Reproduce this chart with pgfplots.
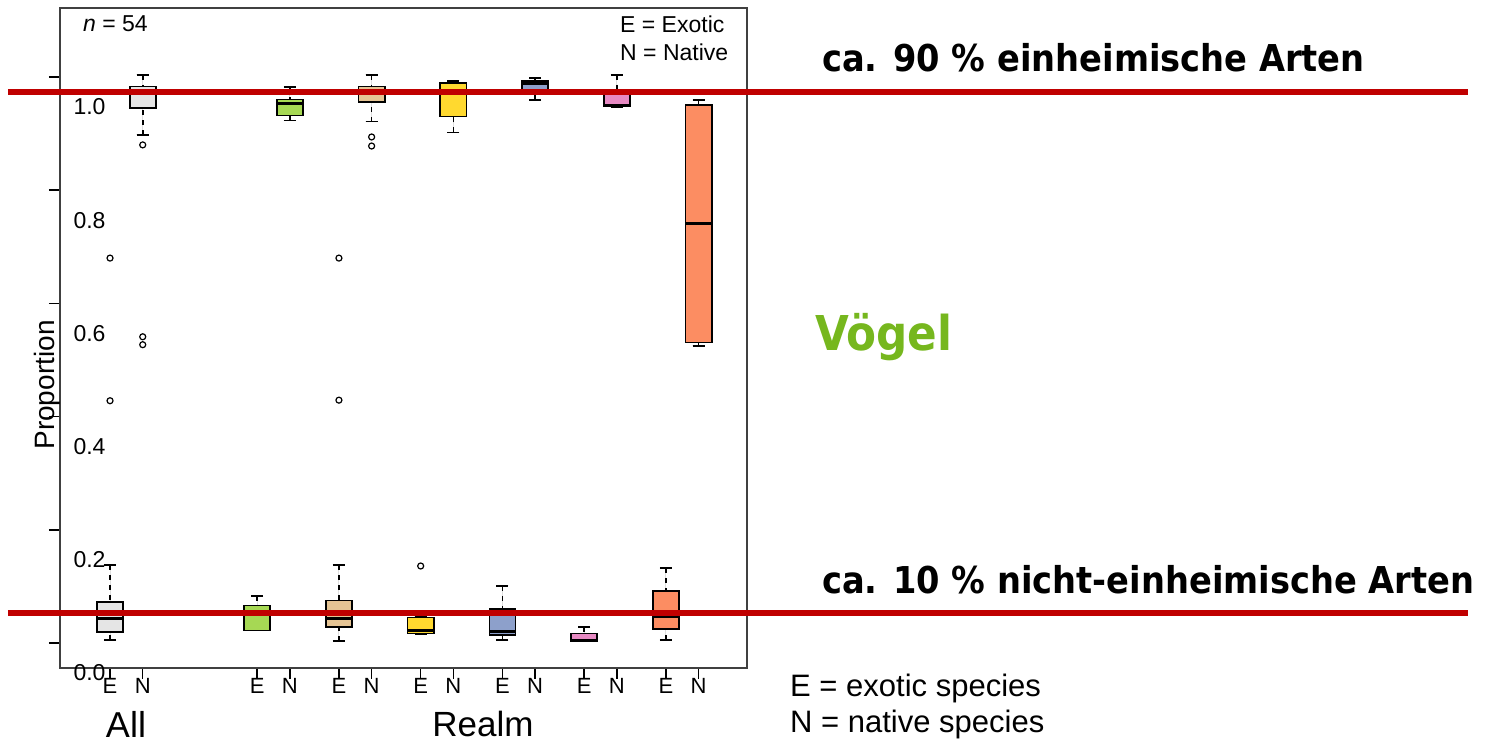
\documentclass[border=0pt]{standalone}
\usepackage{pgfplots}
\pgfplotsset{compat=1.18}
\usepgfplotslibrary{statistics}
\usepackage{fontspec}
\setmainfont{Liberation Sans}
\newfontfamily\annfont[FakeStretch=0.91]{DejaVu Sans}
\definecolor{cAll}{RGB}{229,229,229}
\definecolor{cGreen}{RGB}{166,216,84}
\definecolor{cTan}{RGB}{229,196,148}
\definecolor{cYellow}{RGB}{255,217,47}
\definecolor{cBlue}{RGB}{141,160,203}
\definecolor{cPink}{RGB}{231,138,195}
\definecolor{cOrange}{RGB}{252,141,98}
\definecolor{redline}{RGB}{192,0,0}
\definecolor{vgreen}{RGB}{118,183,30}
\pgfplotsset{
  bx/.style={boxplot prepared={draw position=#1}, draw=black, line width=1.7pt,
    mark=o, mark size=3pt, mark options={black, line width=1.2pt, solid}},
}
\begin{document}
\begin{tikzpicture}
\begin{axis}[
  at={(0,0)}, anchor=south west,
  x=32.7pt, y=566pt,
  xmin=-1.53, xmax=19.48, ymin=-0.0442, ymax=1.122,
  axis line style={line width=1.5pt, black!75},
  tick align=outside, tick pos=left, major tick length=11pt,
  every tick/.style={black, line width=1.5pt},
  xtick={0,1,4.5,5.5,7,8,9.5,10.5,12,13,14.5,15.5,17,18},
  xticklabels={E,N,E,N,E,N,E,N,E,N,E,N,E,N},
  xticklabel style={font=\fontsize{22}{26}\selectfont, yshift=4pt},
  ytick={0,0.2,0.4,0.6,0.8,1.0},
  yticklabels={0.0,0.2,0.4,0.6,0.8,1.0},
  yticklabel style={font=\fontsize{23}{27}\selectfont, anchor=west, xshift=21pt, yshift=-30pt},
  clip=false,
  boxplot/draw direction=y,
  boxplot/box extend=0.8,
  boxplot/whisker extend=0.37,
  boxplot/every median/.style={line width=3pt, black},
  boxplot/draw/lower whisker/.code={%
    \draw[line width=1.6pt, black, dash pattern=on 5pt off 5pt]
      (boxplot box cs:\pgfplotsboxplotvalue{lower whisker},0.5) --
      (boxplot box cs:\pgfplotsboxplotvalue{lower quartile},0.5);
    \draw[line width=1.6pt, black, solid]
      (boxplot whisker cs:\pgfplotsboxplotvalue{lower whisker},0) --
      (boxplot whisker cs:\pgfplotsboxplotvalue{lower whisker},1);
  },
  boxplot/draw/upper whisker/.code={%
    \draw[line width=1.6pt, black, dash pattern=on 5pt off 5pt]
      (boxplot box cs:\pgfplotsboxplotvalue{upper whisker},0.5) --
      (boxplot box cs:\pgfplotsboxplotvalue{upper quartile},0.5);
    \draw[line width=1.6pt, black, solid]
      (boxplot whisker cs:\pgfplotsboxplotvalue{upper whisker},0) --
      (boxplot whisker cs:\pgfplotsboxplotvalue{upper whisker},1);
  },
]
% All
\addplot[bx=0, fill=cAll, boxplot prepared={lower whisker=0.005, lower quartile=0.020, median=0.044, upper quartile=0.072, upper whisker=0.138}]
  coordinates {(0,0.680) (0,0.428)};
\addplot[bx=1, fill=cAll, boxplot prepared={lower whisker=0.898, lower quartile=0.945, median=0.971, upper quartile=0.983, upper whisker=1.004}]
  coordinates {(1,0.880) (1,0.541) (1,0.527)};
% Green
\addplot[bx=4.5, fill=cGreen, boxplot prepared={lower whisker=0.022, lower quartile=0.022, median=0.055, upper quartile=0.066, upper whisker=0.083}]
  coordinates {};
\addplot[bx=5.5, fill=cGreen, boxplot prepared={lower whisker=0.923, lower quartile=0.932, median=0.954, upper quartile=0.960, upper whisker=0.982}]
  coordinates {};
% Tan
\addplot[bx=7, fill=cTan, boxplot prepared={lower whisker=0.004, lower quartile=0.028, median=0.044, upper quartile=0.075, upper whisker=0.138}]
  coordinates {(7,0.680) (7,0.429)};
\addplot[bx=8, fill=cTan, boxplot prepared={lower whisker=0.921, lower quartile=0.956, median=0.971, upper quartile=0.983, upper whisker=1.004}]
  coordinates {(8,0.894) (8,0.878)};
% Yellow
\addplot[bx=9.5, fill=cYellow, boxplot prepared={lower whisker=0.016, lower quartile=0.017, median=0.022, upper quartile=0.045, upper whisker=0.046}]
  coordinates {(9.5,0.136)};
\addplot[bx=10.5, fill=cYellow, boxplot prepared={lower whisker=0.902, lower quartile=0.930, median=0.975, upper quartile=0.989, upper whisker=0.993}]
  coordinates {};
% Blue
\addplot[bx=12, fill=cBlue, boxplot prepared={lower whisker=0.005, lower quartile=0.014, median=0.021, upper quartile=0.060, upper whisker=0.101}]
  coordinates {};
\addplot[bx=13, fill=cBlue, boxplot prepared={lower whisker=0.959, lower quartile=0.976, median=0.988, upper quartile=0.993, upper whisker=0.998}]
  coordinates {};
% Pink
\addplot[bx=14.5, fill=cPink, boxplot prepared={lower whisker=0.003, lower quartile=0.003, median=0.004, upper quartile=0.017, upper whisker=0.028}]
  coordinates {};
\addplot[bx=15.5, fill=cPink, boxplot prepared={lower whisker=0.946, lower quartile=0.948, median=0.950, upper quartile=0.973, upper whisker=1.004}]
  coordinates {};
% Orange
\addplot[bx=17, fill=cOrange, boxplot prepared={lower whisker=0.005, lower quartile=0.025, median=0.046, upper quartile=0.092, upper whisker=0.132}]
  coordinates {};
\addplot[bx=18, fill=cOrange, boxplot prepared={lower whisker=0.525, lower quartile=0.531, median=0.742, upper quartile=0.951, upper whisker=0.959}]
  coordinates {};
\end{axis}
% annotations (1pt = 1px of the reference; origin at the axis' lower-left corner)
\node[anchor=west, inner sep=0, font=\fontsize{23}{27}\selectfont] at (23pt,644pt) {\textit{n} = 54};
\node[anchor=west, inner sep=0, font=\fontsize{23}{27}\selectfont] at (560pt,644pt) {E = Exotic};
\node[anchor=west, inner sep=0, font=\fontsize{23}{27}\selectfont] at (560pt,616pt) {N = Native};
\node[rotate=90, inner sep=0, font=\fontsize{28}{32}\selectfont] at (-13pt,283pt) {Proportion};
\node[inner sep=0, font=\fontsize{36}{42}\selectfont] at (66pt,-56pt) {All};
\node[inner sep=0, font=\fontsize{35}{41}\selectfont] at (423pt,-56pt) {Realm};
\draw[redline, line width=6pt] (-52pt,576pt) -- (1408pt,576pt);
\draw[redline, line width=6pt] (-52pt,55pt) -- (1408pt,55pt);
\node[anchor=west, inner sep=0, font=\annfont\bfseries\fontsize{37}{44}\selectfont] at (762pt,610pt) {ca. 90 \% einheimische Arten};
\node[anchor=west, inner sep=0, font=\annfont\bfseries\fontsize{37}{44}\selectfont] at (762pt,88pt) {ca. 10 \% nicht-einheimische Arten};
\node[anchor=west, inner sep=0, text=vgreen, font=\annfont\bfseries\fontsize{48}{56}\selectfont] at (755pt,331pt) {Vögel};
\node[anchor=west, inner sep=0, font=\fontsize{31}{37}\selectfont] at (730pt,-20pt) {E = exotic species};
\node[anchor=west, inner sep=0, font=\fontsize{31}{37}\selectfont] at (730pt,-56pt) {N = native species};
\pgfresetboundingbox
\useasboundingbox (-60pt,-75pt) rectangle (1428pt,668pt);
\end{tikzpicture}
\end{document}
